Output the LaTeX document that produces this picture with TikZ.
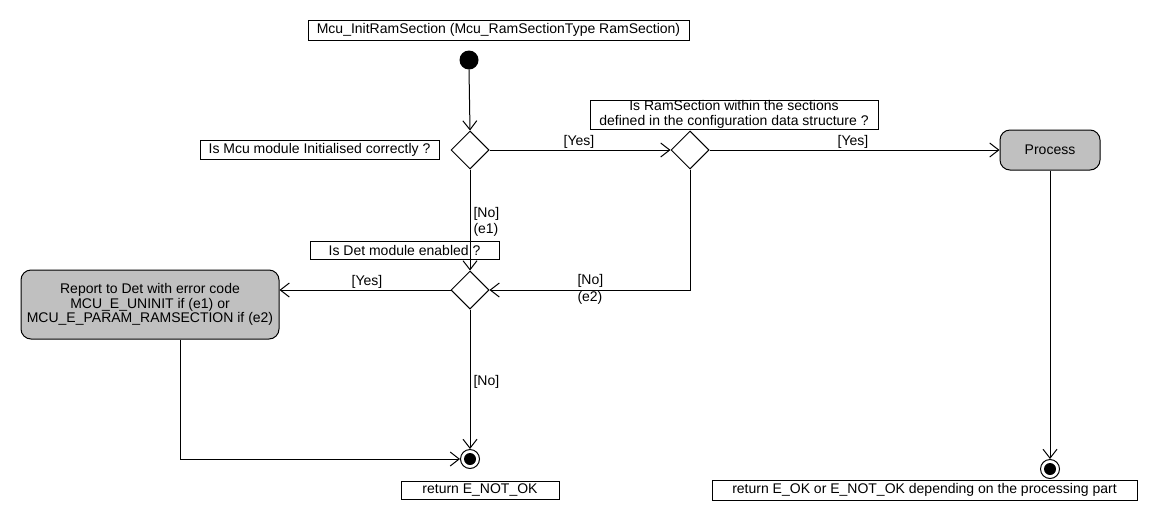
\documentclass[tikz,border=0pt]{standalone}
\usepackage{fontspec}
\setmainfont{Liberation Sans}
\usetikzlibrary{arrows.meta,shapes.geometric}
\definecolor{actgray}{RGB}{192,192,192}
\begin{document}
\begin{tikzpicture}[x=1pt,y=-1pt,line width=1pt,
  every node/.style={font=\fontsize{14}{14.5}\selectfont,inner sep=0pt},
  note/.style={draw,line width=1pt,align=center},
  decision/.style={draw,diamond,minimum width=38pt,minimum height=38pt,inner sep=0pt},
  action/.style={draw,fill=actgray,rounded corners=10pt,align=center},
  flow/.style={-{Straight Barb[length=9pt,width=14pt]}},
  guard/.style={align=left,anchor=west}]
\useasboundingbox (0,0) rectangle (1150,520);

% start and end points
\fill (469,60) circle (9.5pt) coordinate (start);
\node[circle,minimum size=19pt,draw] (end1) at (470,459) {};
\fill (end1) circle (6pt);
\node[circle,minimum size=19pt,draw] (end2) at (1050,469) {};
\fill (end2) circle (6pt);

% notes
\node[note,minimum width=381pt,minimum height=20pt] (sig) at (498.5,30) {Mcu\_InitRamSection (Mcu\_RamSectionType RamSection)};
\node[note,minimum width=239pt,minimum height=19pt] (q1) at (319.5,149.5) {Is Mcu module Initialised correctly ?};
\node[note,minimum width=288pt,minimum height=29pt] (q2) at (734,114.5) {Is RamSection within the sections\\defined in the configuration data structure ?};
\node[note,minimum width=189pt,minimum height=18pt] (q3) at (404.5,250) {Is Det module enabled ?};
\node[note,minimum width=158pt,minimum height=18pt] (r1) at (480,490) {return E\_NOT\_OK};
\node[note,minimum width=425pt,minimum height=20pt] (r2) at (924.5,490) {return E\_OK or E\_NOT\_OK depending on the processing part};

% decisions
\node[decision] (d1) at (470,150) {};
\node[decision] (d2) at (690,150) {};
\node[decision] (d3) at (470,290) {};

% actions
\node[action,minimum width=100pt,minimum height=40pt] (proc) at (1050,150) {Process};
\node[action,minimum width=258pt,minimum height=69pt] (rep) at (150,304.5) {Report to Det with error code\\MCU\_E\_UNINIT if (e1) or\\MCU\_E\_PARAM\_RAMSECTION if (e2)};

% flows
\draw[flow] (start) ++(0,9.5) -- (d1.north);
\draw[flow] (d1.east) -- (d2.west);
\draw[flow] (d2.east) -- (proc.west);
\draw[flow] (d1.south) -- (d3.north);
\draw[flow] (d2.south) |- (d3.east);
\draw[flow] (d3.west) -- (d3.west -| rep.east);
\draw[flow] (d3.south) -- (end1.north);
\draw[flow] ([xshift=30pt]rep.south) |- (end1.west);
\draw[flow] (proc.south) -- (end2.north);

% guards
\node at (579,142) {[Yes]};
\node at (853,142) {[Yes]};
\node[guard] at (473,222) {[No]\\[1.5pt](e1)};
\node[guard] at (577,289.5) {[No]\\[2.5pt](e2)};
\node at (367,282) {[Yes]};
\node[guard] at (473,382) {[No]};
\end{tikzpicture}
\end{document}
